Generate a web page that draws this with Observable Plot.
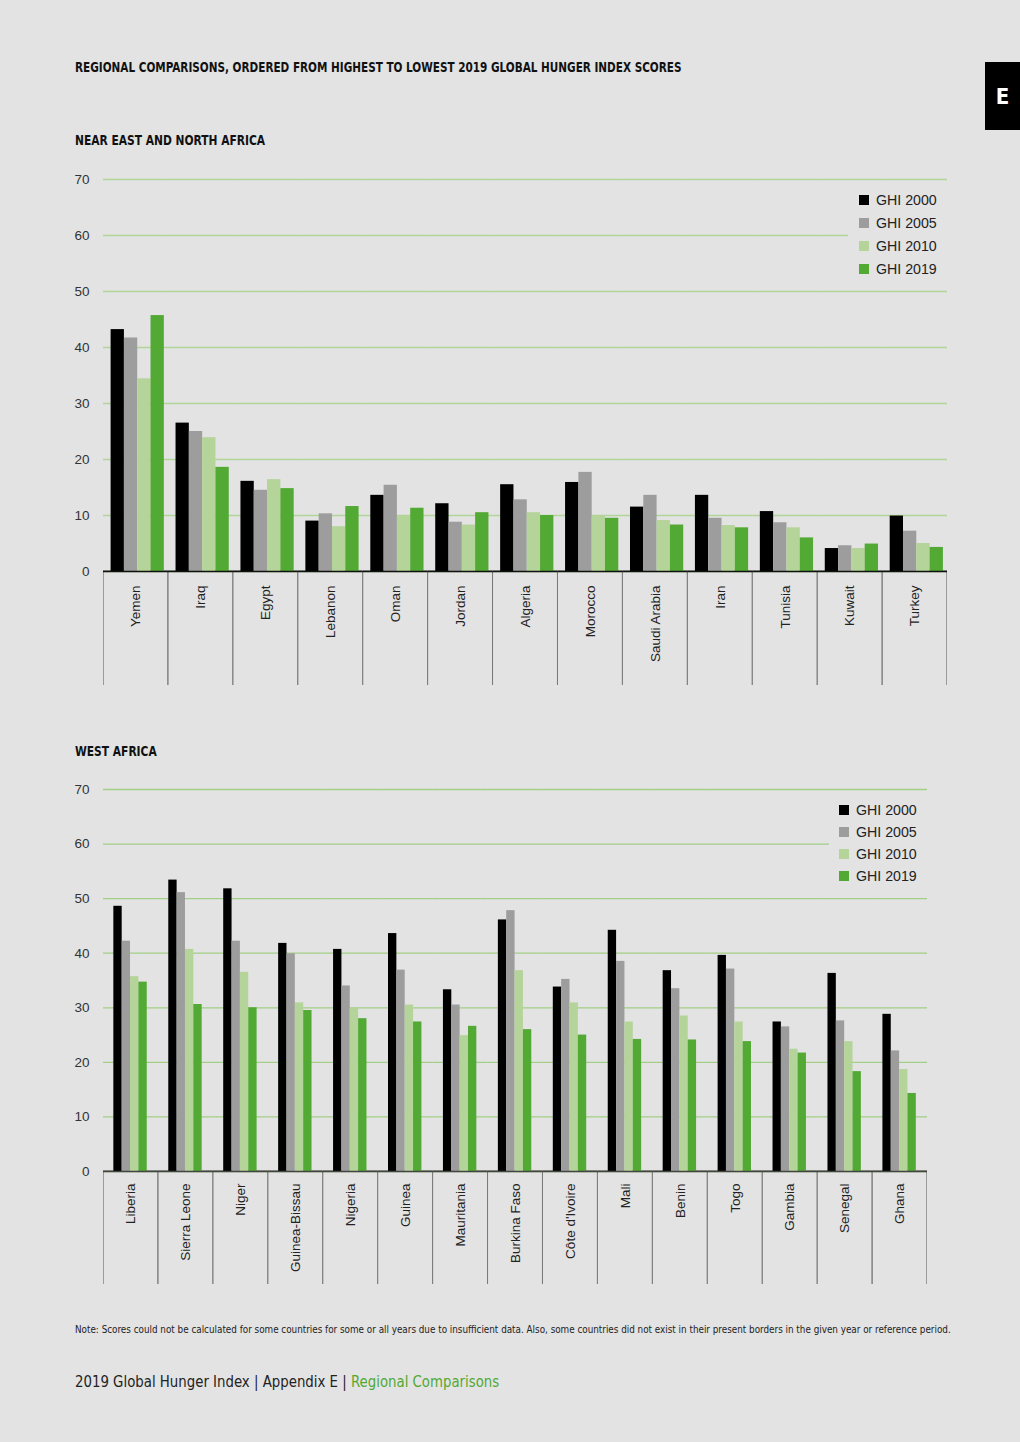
<!DOCTYPE html>
<html>
<head>
<meta charset="utf-8">
<script src="https://cdn.jsdelivr.net/npm/d3@7"></script>
<script src="https://cdn.jsdelivr.net/npm/@observablehq/plot@0.6"></script>
<style>
  html, body { margin: 0; padding: 0; }
  body { width: 1020px; height: 1442px; background: #e3e3e3; position: relative; overflow: hidden;
         font-family: "Liberation Sans", Arial, sans-serif; }
  .cond { font-family: "Liberation Sans Narrow", "DejaVu Sans Condensed", sans-serif; }
  .abs { position: absolute; }
  .head { font-weight: bold; font-size: 13.5px; color: #111; white-space: nowrap; transform-origin: 0 50%; }
  .tab { left: 985px; top: 62px; width: 35px; height: 68px; background: #000; color: #fff;
         font-weight: bold; font-size: 22px; display: flex; align-items: center; justify-content: center; }
  .legend { background: #e3e3e3; font-size: 14.2px; color: #222; }
  .legend .row { position: absolute; display: flex; align-items: center; white-space: nowrap; }
  .legend .sw { width: 10px; height: 10px; margin-right: 7px; }
  .note { font-size: 9.8px; color: #222; white-space: nowrap; }
  .foot { font-size: 15.5px; color: #222; white-space: nowrap; transform: scaleX(0.955); transform-origin: 0 50%; }
</style>
</head>
<body>
<div class="abs cond head" style="left:75px; top:59px; transform: scaleX(0.861);">REGIONAL COMPARISONS, ORDERED FROM HIGHEST TO LOWEST 2019 GLOBAL HUNGER INDEX SCORES</div>
<div class="abs cond tab">E</div>
<div class="abs cond head" style="left:75px; top:132px; transform: scaleX(0.88);">NEAR EAST AND NORTH AFRICA</div>
<div class="abs cond head" style="left:75px; top:743px; transform: scaleX(0.88);">WEST AFRICA</div>
<div id="chart1" class="abs" style="left:0; top:165px;"></div>
<div id="chart2" class="abs" style="left:0; top:775px;"></div>
<div id="legend1" class="abs legend" style="left:848px; top:187px; width:110px; height:96px;"></div>
<div id="legend2" class="abs legend" style="left:829px; top:798px; width:110px; height:90px;"></div>
<div class="abs cond note" style="left:75px; top:1324px;">Note: Scores could not be calculated for some countries for some or all years due to insufficient data. Also, some countries did not exist in their present borders in the given year or reference period.</div>
<div class="abs cond foot" style="left:75px; top:1373px;">2019 Global Hunger Index | Appendix E | <span style="color:#52a933">Regional Comparisons</span></div>

<script>
// ---------- data ----------
const series = ["GHI 2000", "GHI 2005", "GHI 2010", "GHI 2019"];
const seriesColors = ["#000000", "#9d9d9d", "#b5d49a", "#52a933"];
const yTicks = [0, 10, 20, 30, 40, 50, 60, 70];

const nenaCountries = ["Yemen", "Iraq", "Egypt", "Lebanon", "Oman", "Jordan", "Algeria", "Morocco", "Saudi Arabia", "Iran", "Tunisia", "Kuwait", "Turkey"];
const nena2000 = [43.2, 26.5, 16.1, 9.0, 13.6, 12.1, 15.5, 15.9, 11.5, 13.6, 10.7, 4.1, 9.9];
const nena2005 = [41.7, 25.0, 14.5, 10.3, 15.4, 8.8, 12.8, 17.7, 13.6, 9.5, 8.7, 4.6, 7.2];
const nena2010 = [34.4, 23.9, 16.4, 8.0, 9.9, 8.3, 10.5, 9.9, 9.1, 8.2, 7.8, 4.1, 5.0];
const nena2019 = [45.7, 18.6, 14.8, 11.6, 11.3, 10.5, 10.0, 9.5, 8.3, 7.8, 6.0, 4.9, 4.3];

const waCountries = ["Liberia", "Sierra Leone", "Niger", "Guinea-Bissau", "Nigeria", "Guinea", "Mauritania", "Burkina Faso", "Côte d'Ivoire", "Mali", "Benin", "Togo", "Gambia", "Senegal", "Ghana"];
const wa2000 = [48.6, 53.4, 51.8, 41.8, 40.7, 43.6, 33.3, 46.1, 33.8, 44.2, 36.8, 39.6, 27.4, 36.3, 28.8];
const wa2005 = [42.2, 51.1, 42.2, 39.9, 34.0, 36.9, 30.5, 47.8, 35.2, 38.5, 33.5, 37.1, 26.5, 27.6, 22.1];
const wa2010 = [35.7, 40.7, 36.5, 30.9, 29.9, 30.5, 24.9, 36.8, 30.9, 27.4, 28.5, 27.4, 22.4, 23.8, 18.7];
const wa2019 = [34.7, 30.6, 30.0, 29.5, 28.0, 27.4, 26.6, 26.0, 25.0, 24.2, 24.1, 23.8, 21.7, 18.3, 14.3];

function toRows(countries, cols) {
  const rows = [];
  countries.forEach((c, i) => series.forEach((s, j) => rows.push({country: c, series: s, value: cols[j][i]})));
  return rows;
}

function chart({countries, cols, height, zeroY, marginRight, paddingOuter, align, labelDy, gridColor, zeroColor}) {
  const rows = toRows(countries, cols);
  const marginTop = 14;
  return Plot.plot({
    width: 1020,
    height,
    marginLeft: 103,
    marginRight,
    marginTop,
    marginBottom: 5,
    style: {background: "transparent", fontFamily: "'Liberation Sans', Arial, sans-serif", fontSize: "13px", color: "#333"},
    fx: {domain: countries, padding: 0, round: false, axis: null},
    x: {domain: series, paddingInner: 0, paddingOuter, align, round: false, axis: null},
    y: {domain: [0, 70], range: [zeroY, marginTop], axis: null},
    color: {domain: series, range: seriesColors},
    marks: [
      Plot.gridY(yTicks, {stroke: gridColor, strokeOpacity: 1, strokeWidth: 1.3}),
      Plot.axisY(yTicks, {tickSize: 0, tickPadding: 14, fontSize: 13.5, fill: "#333", label: null}),
      Plot.rect(countries, {fx: d => d, y1: 0, y2: -30, fill: "none", stroke: "#555", strokeWidth: 1, clip: true}),
      Plot.barY(rows, {fx: "country", x: "series", y: "value", fill: "series"}),
      Plot.ruleY([0], {stroke: zeroColor, strokeWidth: 1.5}),
      Plot.text(countries, {fx: d => d, y: 0, dy: labelDy, text: d => d, rotate: -90, textAnchor: "end", lineAnchor: "middle", fontSize: 13.5, fill: "#222"})
    ]
  });
}

document.getElementById("chart1").appendChild(chart({
  countries: nenaCountries, cols: [nena2000, nena2005, nena2010, nena2019],
  height: 525, zeroY: 406, marginRight: 73, paddingOuter: 0.44, align: 0.65, labelDy: 14,
  gridColor: "#b0d597", zeroColor: "#111"
}));
document.getElementById("chart2").appendChild(chart({
  countries: waCountries, cols: [wa2000, wa2005, wa2010, wa2019],
  height: 514, zeroY: 396, marginRight: 93, paddingOuter: 1.29, align: 0.48, labelDy: 12,
  gridColor: "#a2cf85", zeroColor: "#444"
}));

function legend(el, x0, rowTops) {
  series.forEach((s, i) => {
    const row = document.createElement("div");
    row.className = "row";
    row.style.left = x0 + "px";
    row.style.top = rowTops[i] + "px";
    row.innerHTML = `<span class="sw" style="background:${seriesColors[i]}"></span><span>${s}</span>`;
    el.appendChild(row);
  });
}
legend(document.getElementById("legend1"), 11, [5, 28, 51, 74]);
legend(document.getElementById("legend2"), 10, [4, 26, 48, 70]);
</script>
</body>
</html>
